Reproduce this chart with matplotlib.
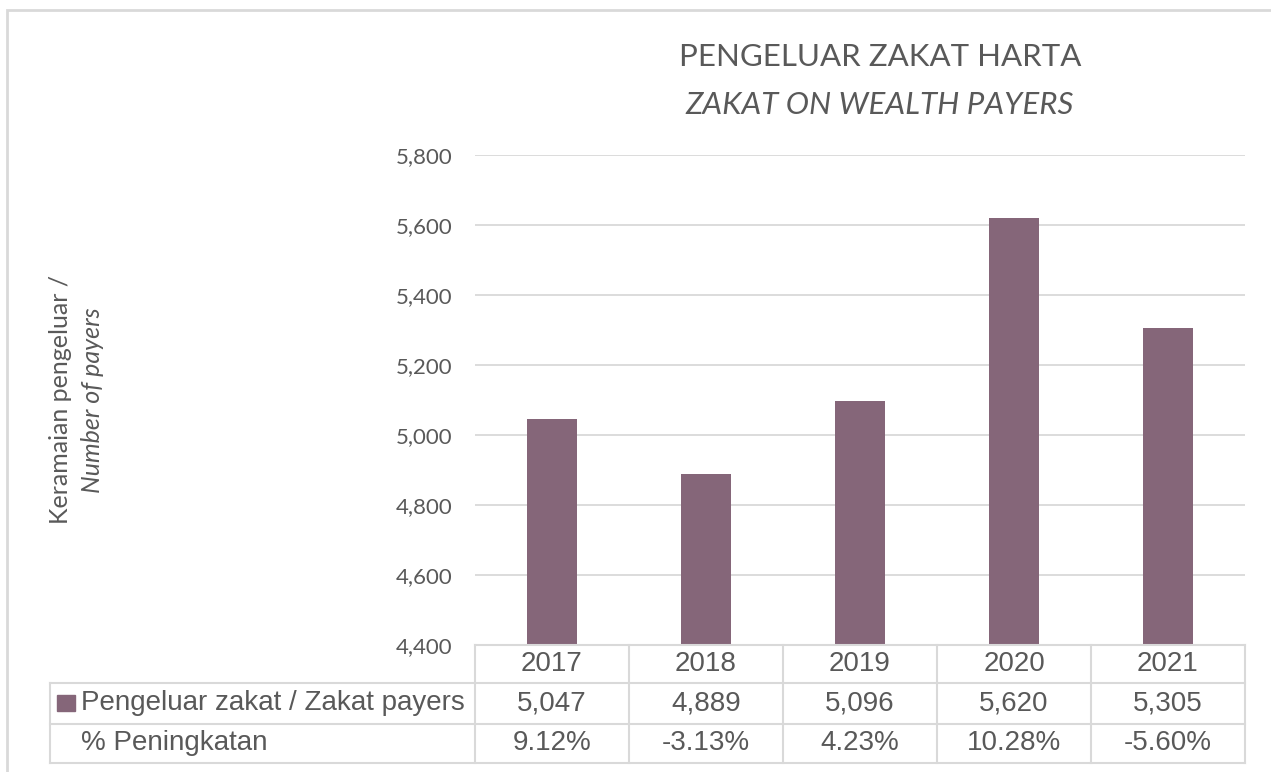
import matplotlib
matplotlib.use("Agg")
import matplotlib.pyplot as plt
from matplotlib.lines import Line2D
from matplotlib.patches import Rectangle

# Data
years = ["2017", "2018", "2019", "2020", "2021"]
payers = [5047, 4889, 5096, 5620, 5305]
growth = ["9.12%", "-3.13%", "4.23%", "10.28%", "-5.60%"]
series_label = "Pengeluar zakat / Zakat payers"
growth_label = "% Peningkatan"
y_ticks = [4400, 4600, 4800, 5000, 5200, 5400, 5600, 5800]

W, H = 1271, 772
BAR = "#856679"
GRID = "#d9d9d9"
TXT = "#595959"
TITLE_FONT = "Lato"
TABLE_FONT = "Liberation Sans"

fig = plt.figure(figsize=(W / 100, H / 100), dpi=100)


def fx(x):
    return x / W


def fy(y):
    return 1 - y / H


# Plot area in pixel terms
L, R, T, B = 475, 1245, 155, 645
ax = fig.add_axes([fx(L), fy(B), fx(R) - fx(L), fy(T) - fy(B)])
xs = list(range(len(years)))
ax.bar(xs, payers, width=0.32, color=BAR, zorder=3)
ax.set_xlim(-0.5, len(years) - 0.5)
ax.set_ylim(y_ticks[0], y_ticks[-1])
ax.set_yticks(y_ticks)
ax.set_yticklabels([f"{v:,}" for v in y_ticks], fontsize=16, color=TXT,
                   family=TITLE_FONT)
ax.tick_params(axis="y", length=0, pad=16.5)
ax.set_xticks([])
for s in ax.spines.values():
    s.set_visible(False)
ax.yaxis.grid(True, color=GRID, linewidth=1.3, zorder=0)
ax.set_axisbelow(True)

# Outer chart frame (runs off the right and bottom edges)
fig.add_artist(Rectangle((fx(7), fy(800)), fx(1300) - fx(7), fy(10) - fy(800),
                         transform=fig.transFigure, fill=False,
                         edgecolor=GRID, linewidth=2))

# Title
fig.text(fx(880), fy(57), "PENGELUAR ZAKAT HARTA", ha="center", va="center",
         fontsize=22.5, color=TXT, family=TITLE_FONT)
fig.text(fx(880), fy(105), "ZAKAT ON WEALTH PAYERS", ha="center", va="center",
         fontsize=22.5, color=TXT, family=TITLE_FONT, style="italic")

# Y axis title (two lines, second italic)
fig.text(fx(60), fy(400), "Keramaian pengeluar /", rotation=90, ha="center",
         va="center", fontsize=18, color=TXT, family=TITLE_FONT)
fig.text(fx(92), fy(400), "Number of payers", rotation=90, ha="center",
         va="center", fontsize=18, color=TXT, family=TITLE_FONT,
         style="italic")

# Data table below the plot
col_w = (R - L) / len(years)
rows = [645, 683, 724, 763]
LEFT = 50


def hline(y, x0, x1):
    fig.add_artist(Line2D([fx(x0), fx(x1)], [fy(y), fy(y)],
                          transform=fig.transFigure, color=GRID, linewidth=1.5))


def vline(x, y0, y1):
    fig.add_artist(Line2D([fx(x), fx(x)], [fy(y0), fy(y1)],
                          transform=fig.transFigure, color=GRID, linewidth=1.5))


hline(rows[0], L, R)
for y in rows[1:]:
    hline(y, LEFT, R)
vline(LEFT, rows[1], rows[3])
for i in range(len(years) + 1):
    vline(L + i * col_w, rows[0], rows[3])

row_mid = [(rows[i] + rows[i + 1]) / 2 for i in range(3)]
for i, yr in enumerate(years):
    cx = L + (i + 0.5) * col_w
    fig.text(fx(cx), fy(row_mid[0]), yr, ha="center", va="center",
             fontsize=20, color=TXT, family=TABLE_FONT)
    fig.text(fx(cx), fy(row_mid[1]), f"{payers[i]:,}", ha="center",
             va="center", fontsize=20, color=TXT, family=TABLE_FONT)
    fig.text(fx(cx), fy(row_mid[2]), growth[i], ha="center", va="center",
             fontsize=20, color=TXT, family=TABLE_FONT)

# Legend key and row labels
fig.add_artist(Rectangle((fx(57), fy(711)), fx(75) - fx(57), fy(695) - fy(711),
                         transform=fig.transFigure, color=BAR))
fig.text(fx(81), fy(row_mid[1]), series_label, ha="left", va="center",
         fontsize=20, color=TXT, family=TABLE_FONT)
fig.text(fx(81), fy(row_mid[2]), growth_label, ha="left", va="center",
         fontsize=20, color=TXT, family=TABLE_FONT)

fig.savefig("out.png", dpi=100, facecolor="white")
